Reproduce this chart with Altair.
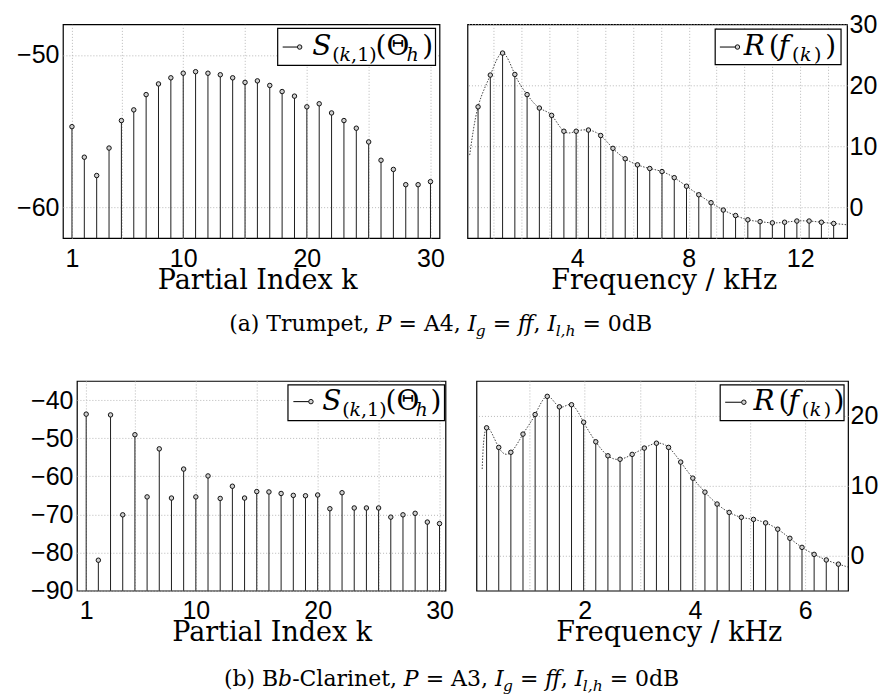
import altair as alt
import pandas as pd

# ---------------- data ----------------
partial_index = list(range(1, 31))

trumpet_level_db = [-54.7, -56.7, -57.9, -56.1, -54.3, -53.6, -52.6, -51.9, -51.5, -51.2,
                    -51.1, -51.2, -51.3, -51.5, -51.8, -51.7, -52.0, -52.4, -52.7, -53.4,
                    -53.2, -53.8, -54.3, -54.8, -55.7, -56.9, -57.5, -58.5, -58.5, -58.3]
trumpet_freq_khz = [0.44, 0.88, 1.32, 1.76, 2.20, 2.64, 3.08, 3.52, 3.96, 4.40,
                    4.84, 5.28, 5.72, 6.16, 6.60, 7.04, 7.48, 7.92, 8.36, 8.80,
                    9.24, 9.68, 10.12, 10.56, 11.00, 11.44, 11.88, 12.32, 12.76, 13.20]
trumpet_resonance_db = [16.5, 21.7, 25.3, 21.8, 18.5, 16.3, 15.1, 12.5, 12.5, 12.7,
                        11.8, 9.7, 8.0, 7.0, 6.4, 5.9, 4.9, 3.5, 2.1, 0.8,
                        -0.4, -1.3, -2.0, -2.3, -2.5, -2.4, -2.2, -2.2, -2.4, -2.6]
trumpet_curve_start = (0.14, 8.6)
trumpet_curve_end = (13.65, -2.8)

clarinet_level_db = [-43.7, -82.0, -43.9, -70.1, -49.1, -65.4, -52.8, -65.7, -58.1, -65.4,
                     -59.9, -65.8, -62.6, -65.7, -64.0, -64.1, -64.5, -65.0, -65.1, -64.9,
                     -68.5, -64.3, -68.3, -68.3, -68.3, -70.7, -70.1, -69.7, -72.0, -72.4]
clarinet_freq_khz = [0.22, 0.44, 0.66, 0.88, 1.10, 1.32, 1.54, 1.76, 1.98, 2.20,
                     2.42, 2.64, 2.86, 3.08, 3.30, 3.52, 3.74, 3.96, 4.18, 4.40,
                     4.62, 4.84, 5.06, 5.28, 5.50, 5.72, 5.94, 6.16, 6.38, 6.60]
clarinet_resonance_db = [18.3, 15.5, 14.8, 17.4, 20.2, 22.8, 21.3, 21.6, 19.1, 16.3,
                         14.3, 13.8, 14.5, 15.4, 16.1, 15.5, 13.4, 11.1, 9.1, 7.4,
                         6.2, 5.5, 5.2, 4.7, 3.8, 2.5, 1.2, 0.2, -0.6, -1.2]
clarinet_curve_start = (0.14, 12.4)
clarinet_curve_end = (6.77, -1.6)

k_ticks = [1, 5, 10, 15, 20, 25, 30]
trumpet_f_ticks = [1, 2, 3, 4, 5, 6, 7, 8, 9, 10, 11, 12, 13]
clarinet_f_ticks = [1, 2, 3, 4, 5, 6]
trumpet_S_ticks = [-60, -50]
clarinet_S_ticks = [-90, -80, -70, -60, -50, -40]
trumpet_R_ticks = [0, 10, 20, 30]
clarinet_R_ticks = [0, 10, 20]

title_k = "Partial Index k"
title_f = "Frequency / kHz"

caption_a = [("(a) Trumpet, ", False, 22, 0), ("P", True, 22, 0), (" = A4, ", False, 22, 0),
             ("I", True, 22, 0), ("g", True, 15.5, 5), (" = ", False, 22, 0), ("ff", True, 22, 0),
             (", ", False, 22, 0), ("I", True, 22, 0), ("l,h", True, 15.5, 5), (" = 0dB", False, 22, 0)]
caption_b = [("(b) B", False, 22, 0), ("b", True, 22, 0), ("-Clarinet, ", False, 22, 0),
             ("P", True, 22, 0), (" = A3, ", False, 22, 0),
             ("I", True, 22, 0), ("g", True, 15.5, 5), (" = ", False, 22, 0), ("ff", True, 22, 0),
             (", ", False, 22, 0), ("I", True, 22, 0), ("l,h", True, 15.5, 5), (" = 0dB", False, 22, 0)]

# ---------------- style ----------------
SANS = "Liberation Sans"
SERIF = "DejaVu Serif"
GRID = "#b8b8b8"
STEM = "#1e1e1e"
one = pd.DataFrame({"d": [0]})

W_REG = {" ": 651, "(": 799, ")": 799, ",": 651, "-": 739, "=": 1716, "A": 1479, "B": 1486,
         "C": 1497, "P": 1382, "T": 1374, "a": 1225, "b": 1311, "d": 1311, "e": 1214, "i": 657,
         "l": 657, "m": 1954, "n": 1320, "p": 1311, "r": 981, "t": 821, "u": 1320}
for _c in "0123456789":
    W_REG[_c] = 1303
W_ITA = {"P": 1382, "I": 754, "g": 1311, "f": 721, "l": 657, "h": 1320, "b": 1311, ",": 651, " ": 651}


def text_width(s, size, italic):
    table = W_ITA if italic else W_REG
    return sum(table.get(c, 1250) for c in s) / 2048 * size


def text_layer(txt, x, y, size, italic=False):
    mk = dict(font=SERIF, fontSize=size, align="left", baseline="alphabetic", color="black")
    if italic:
        mk["fontStyle"] = "italic"
    return alt.Chart(one).mark_text(**mk).encode(
        x=alt.value(x), y=alt.value(y), text=alt.value(txt))


def legend_layers(box, line, pieces):
    layers = [
        alt.Chart(one).mark_rect(fill="white", stroke="black", strokeWidth=1.2).encode(
            x=alt.value(box[0]), x2=alt.value(box[1]), y=alt.value(box[2]), y2=alt.value(box[3])),
        alt.Chart(one).mark_rule(color="black", strokeWidth=1).encode(
            x=alt.value(line[0]), x2=alt.value(line[1]), y=alt.value(line[2])),
        alt.Chart(one).mark_point(shape="circle", filled=True, fill="#d0d0d0", stroke="#111",
                                  strokeWidth=1, size=20, opacity=1).encode(
            x=alt.value(line[1] + 2), y=alt.value(line[2])),
    ]
    for txt, x, y, size, italic in pieces:
        layers.append(text_layer(txt, x, y, size, italic))
    return layers


def stem_panel(xs, ys, xdomain, ydomain, width, height, xticks, label_expr, xtitle, title_x,
               title_y, yticks, yorient, ypad, legend, min_extent=None, curve=None):
    df = pd.DataFrame({"x": xs, "v": ys})
    xaxis = alt.Axis(values=xticks, labelExpr=label_expr, grid=True, gridColor=GRID,
                     gridDash=[1, 2], gridWidth=1, ticks=False, domain=False,
                     labelFont=SANS, labelFontSize=25, labelColor="black", labelPadding=8,
                     labelFlush=False, labelOverlap=False,
                     title=xtitle, titleFont=SERIF, titleFontSize=27, titleFontWeight="normal",
                     titleColor="black", titleX=title_x, titleY=title_y,
                     titleBaseline="alphabetic", titleAlign="center")
    yargs = dict(orient=yorient, values=yticks, grid=True, gridColor=GRID, gridDash=[1, 2],
                 gridWidth=1, ticks=False, domain=False, labelFont=SANS, labelFontSize=25,
                 labelColor="black", labelPadding=ypad, labelFlush=False, labelOverlap=False,
                 title="")
    if min_extent is not None:
        yargs["minExtent"] = min_extent
    yaxis = alt.Axis(**yargs)
    xenc = alt.X("x:Q", scale=alt.Scale(domain=xdomain, nice=False, zero=False), axis=xaxis)
    yenc = alt.Y("v:Q", scale=alt.Scale(domain=ydomain, nice=False, zero=False), axis=yaxis)
    layers = []
    if curve is not None:
        cdf = pd.DataFrame({"x": [curve[0][0]] + list(xs) + [curve[1][0]],
                            "v": [curve[0][1]] + list(ys) + [curve[1][1]]})
        layers.append(alt.Chart(cdf).mark_line(interpolate="natural", color="#444",
                                               strokeWidth=1, strokeDash=[1.5, 1.5],
                                               clip=True).encode(x=xenc, y=yenc))
    layers.append(alt.Chart(df).mark_rule(color=STEM, strokeWidth=1).encode(
        x=xenc, y=yenc, y2=alt.datum(ydomain[0])))
    layers.append(alt.Chart(df).mark_point(shape="circle", filled=True, fill="#d0d0d0",
                                           stroke="#111", strokeWidth=1, size=20,
                                           opacity=1).encode(x=xenc, y=yenc))
    layers += legend
    return alt.layer(*layers).properties(
        width=width, height=height,
        view=alt.ViewBackground(stroke="black", strokeWidth=1.2, fill="white"))


def caption_chart(segments, center_x, baseline_y, width, height):
    total = sum(text_width(t, sz, it) for t, it, sz, dy in segments)
    x = center_x - total / 2
    layers = []
    for t, it, sz, dy in segments:
        lead = len(t) - len(t.lstrip(" "))
        body = t.strip(" ")
        if body:
            layers.append(text_layer(body, x + text_width(" " * lead, sz, it),
                                     baseline_y + dy, sz, it))
        x += text_width(t, sz, it)
    return alt.layer(*layers).properties(
        width=width, height=height, view=alt.ViewBackground(strokeWidth=0))


S_pieces_top = [("S", 249.7, 31, 28, True), ("(", 269.7, 37, 19, False), ("k", 277, 37, 19, True),
                (",1)", 288.5, 37, 19, False), ("(Θ", 313, 31, 28, False), ("h", 344, 37, 19, True),
                (")", 359.7, 31, 28, False)]
R_pieces_top = [("R", 276.7, 31, 28, True), ("(", 301.7, 31, 28, False), ("f", 311.7, 31, 28, True),
                ("(", 325, 37, 19, False), ("k", 333, 37, 19, True), (")", 347, 37, 19, False),
                (")", 358.3, 31, 28, False)]
S_pieces_bot = [("S", 245.7, 29.5, 28, True), ("(", 265.7, 35.5, 19, False), ("k", 273, 35.5, 19, True),
                (",1)", 284.5, 35.5, 19, False), ("(Θ", 309, 29.5, 28, False), ("h", 339, 35.5, 19, True),
                (")", 354, 29.5, 28, False)]
R_pieces_bot = [("R", 277.4, 29.5, 28, True), ("(", 302.4, 29.5, 28, False), ("f", 312.4, 29.5, 28, True),
                ("(", 325.7, 35.5, 19, False), ("k", 333.7, 35.5, 19, True), (")", 347.7, 35.5, 19, False),
                (")", 357.4, 29.5, 28, False)]

tl = stem_panel(partial_index, trumpet_level_db, [0.27, 30.73], [-62, -48], 377, 214, k_ticks,
                "(datum.value == 1 || datum.value % 10 == 0) ? datum.label : ''", title_k, 194.5, 50,
                trumpet_S_ticks, "left", 4,
                legend_layers((215, 373, 4, 41), (220, 235, 22.7), S_pieces_top), min_extent=62)
tr = stem_panel(trumpet_freq_khz, trumpet_resonance_db, [0.06, 13.68], [-5, 30], 380, 214,
                trumpet_f_ticks, "datum.value % 4 == 0 ? datum.label : ''", title_f, 196.5, 50,
                trumpet_R_ticks, "right", 2,
                legend_layers((248, 374, 4.7, 40.3), (252.7, 268.3, 22.7), R_pieces_top),
                curve=(trumpet_curve_start, trumpet_curve_end))
bl = stem_panel(partial_index, clarinet_level_db, [0.24, 30.49], [-90, -35], 369, 210, k_ticks,
                "(datum.value == 1 || datum.value % 10 == 0) ? datum.label : ''", title_k, 195, 50,
                clarinet_S_ticks, "left", 4,
                legend_layers((211.3, 368, 4, 39.7), (216.7, 232.3, 20.7), S_pieces_bot), min_extent=76)
br = stem_panel(clarinet_freq_khz, clarinet_resonance_db, [0.036, 6.775], [-5, 25], 372, 210,
                clarinet_f_ticks, "datum.value % 2 == 0 ? datum.label : ''", title_f, 192.5, 50,
                clarinet_R_ticks, "right", 2,
                legend_layers((244, 368, 4, 39.7), (249, 265.7, 21.3), R_pieces_bot),
                curve=(clarinet_curve_start, clarinet_curve_end))

# invisible 14 px spacer: shifts the bottom row's first plot right of the top row's
spacer = alt.Chart(one).mark_point(opacity=0).encode(
    x=alt.value(0), y=alt.value(0)).properties(
    width=14, height=10, view=alt.ViewBackground(strokeWidth=0))

ORIGIN_X = 62  # page x of the common origin of all rows
row1 = alt.hconcat(tl, tr, spacing=21)
row2 = alt.hconcat(spacer, alt.hconcat(bl, br, spacing=21), spacing=0, bounds="flush")
cap1 = caption_chart(caption_a, 440 - ORIGIN_X, 37.3, 880 - ORIGIN_X, 84)
cap2 = caption_chart(caption_b, 451 - ORIGIN_X, 39, 880 - ORIGIN_X, 47)

chart = alt.vconcat(row1, cap1, row2, cap2, spacing=0).properties(
    padding={"top": 11, "left": 0, "right": 0, "bottom": 0},
    background="white",
).configure_view(strokeWidth=0)

chart.save("out.html", embed_options={"renderer": "svg", "actions": False})
